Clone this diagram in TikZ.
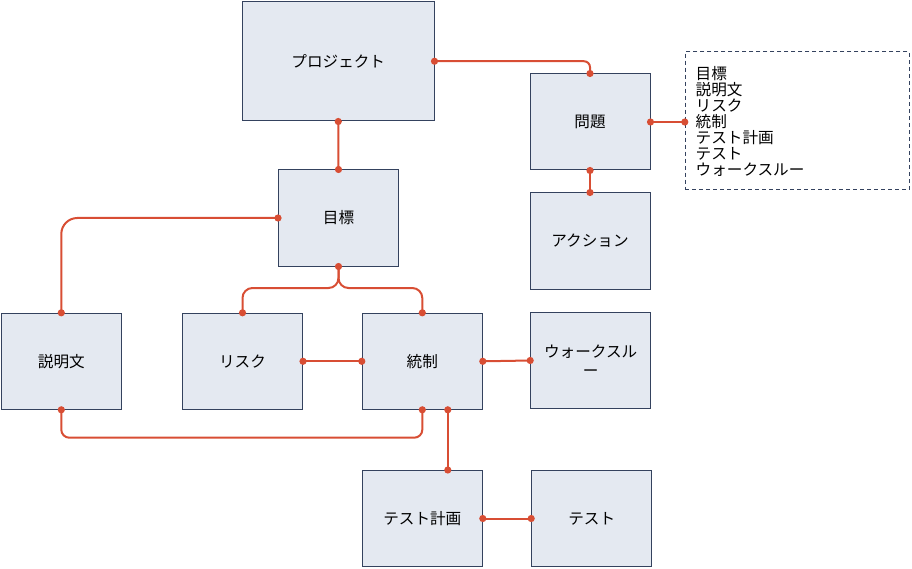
\documentclass[tikz,border=0pt]{standalone}
\usepackage{fontspec}
\setmainfont{Noto Sans CJK JP}
\usetikzlibrary{calc}
\definecolor{linkc}{RGB}{216,78,52}
\definecolor{boxfill}{RGB}{228,233,241}
\definecolor{boxdraw}{RGB}{52,66,94}
\tikzset{
  box/.style={draw=boxdraw, fill=boxfill, line width=1pt, minimum width=120pt, minimum height=96pt, inner sep=2pt, font=\fontsize{15.6}{18.5}\selectfont, align=center},
  link/.style={draw=linkc, line width=2pt},
  ldot/.style={fill=linkc, draw=none},
  listbox/.style={draw=boxdraw, line width=1pt, dash pattern=on 4pt off 3pt, minimum width=224pt, minimum height=138pt},
}
\newcommand{\ldotat}[1]{\fill[ldot] (#1) circle (3.6pt);}
\begin{document}
\begin{tikzpicture}[x=1pt,y=-1pt]
\useasboundingbox (0,0) rectangle (912,569);
\node[box, minimum width=191.5pt, minimum height=119.5pt] (proj) at (338.25,61.25) {プロジェクト};
\node[box] (goal) at (338.5,218) {目標};
\node[box] (prob) at (590,122) {問題};
\node[box] (act) at (590,241) {アクション};
\node[box] (desc) at (61.3,361.3) {説明文};
\node[box] (risk) at (242.5,361.3) {リスク};
\node[box] (ctrl) at (422.3,361.3) {統制};
\node[box] (walk) at (590.7,360.5) {ウォークスル\\ー};
\node[box] (plan) at (422.3,518.5) {テスト計画};
\node[box] (test) at (591.7,518.5) {テスト};
\node[listbox] (lst) at (797.3,120.7) {};
\node[anchor=north west, inner sep=0pt, align=left, font=\fontsize{15.6}{15.9}\selectfont] (lsttext) at (695.5,66.3) {目標\\説明文\\リスク\\統制\\テスト計画\\テスト\\ウォークスルー};
% connectors
\draw[link, rounded corners=6pt] (proj.east) -| (prob.north);
\draw[link] (proj.south) -- (goal.north);
\draw[link] (prob.east) -- (prob.east -| lst.west);
\draw[link] (prob.south) -- (act.north);
\draw[link, rounded corners=16pt] (goal.west) -| (desc.north);
\draw[link, rounded corners=10pt] (goal.south) |- (300,288) -| (risk.north);
\draw[link, rounded corners=10pt] (goal.south) |- (380,288) -| (ctrl.north);
\draw[link] (risk.east) -- (ctrl.west);
\draw[link] (ctrl.east) -- (walk.west);
\draw[link, rounded corners=8pt] (desc.south) |- (240,437.7) -| (ctrl.south);
\coordinate (ctrlb) at ([xshift=25.5pt]ctrl.south);
\coordinate (plant) at ([xshift=25.5pt]plan.north);
\draw[link] (ctrlb) -- (plant);
\draw[link] (plan.east) -- (test.west);
% dots
\ldotat{proj.east}\ldotat{prob.north}
\ldotat{proj.south}\ldotat{goal.north}
\ldotat{prob.east}\ldotat{prob.east -| lst.west}
\ldotat{prob.south}\ldotat{act.north}
\ldotat{goal.west}\ldotat{desc.north}
\ldotat{goal.south}\ldotat{risk.north}\ldotat{ctrl.north}
\ldotat{risk.east}\ldotat{ctrl.west}
\ldotat{ctrl.east}\ldotat{walk.west}
\ldotat{desc.south}\ldotat{ctrl.south}
\ldotat{ctrlb}\ldotat{plant}
\ldotat{plan.east}\ldotat{test.west}
\end{tikzpicture}
\end{document}
